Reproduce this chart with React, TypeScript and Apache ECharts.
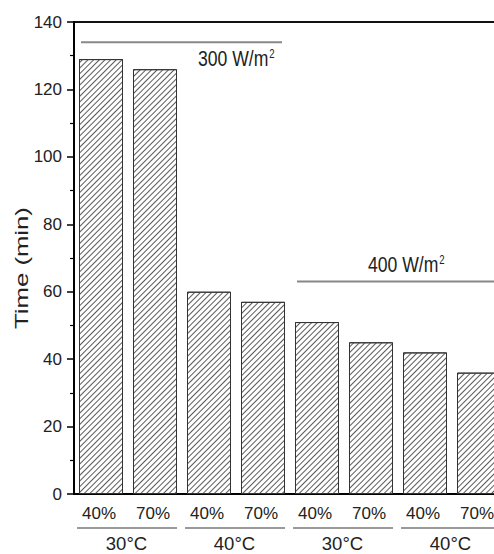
import React, { useEffect, useRef } from 'react';
import * as echarts from 'echarts';

// ---- data ----
const humidity = ['40%', '70%', '40%', '70%', '40%', '70%', '40%', '70%'];
const temperatures = ['30°C', '40°C', '30°C', '40°C'];
const times = [129, 126, 60, 57, 51, 45, 42, 36];
const irradianceLabels = ['300', '400'];
const irradianceFirstBar = [0, 4];
const irradianceLastBar = [3, 7];
const irradianceLineLevel = [134, 63];
const irradianceTextLevel = [129.3, 68];
const yMin = 0;
const yMax = 140;
const yInterval = 20;
const yTitle = 'Time (min)';

const categories = humidity.map((h, i) => `${i}|${h}`);

const SANS = '"Liberation Sans", Arial, sans-serif';

export default function App() {
  const ref = useRef<HTMLDivElement>(null);

  useEffect(() => {
    if (!ref.current) return;
    const chart = echarts.init(ref.current, undefined, { renderer: 'svg' });
    const option: any = {
      animation: false,
      backgroundColor: '#fff',
      aria: { enabled: true, decal: { show: true } },
      grid: {
        left: 74,
        top: 22,
        width: 432,
        height: 472,
        show: true,
        borderColor: '#111',
        borderWidth: 2,
        backgroundColor: 'transparent',
      },
      xAxis: [
        {
          type: 'category',
          data: categories,
          position: 'bottom',
          axisLine: { show: true, lineStyle: { color: '#000', width: 2 } },
          axisTick: { show: false },
          axisLabel: {
            formatter: (v: string) => v.split('|')[1],
            fontFamily: SANS,
            fontSize: 17,
            color: '#222',
            margin: 11,
            padding: [0, 4, 0, 0],
          },
          splitLine: { show: false },
        },
        {
          type: 'category',
          data: temperatures,
          position: 'bottom',
          offset: 32,
          axisLine: { show: false },
          axisTick: { show: false },
          axisLabel: {
            fontFamily: SANS,
            fontSize: 18.5,
            color: '#222',
            margin: 8,
            padding: [0, 3, 0, 0],
          },
          splitLine: { show: false },
        },
      ],
      yAxis: {
        type: 'value',
        min: yMin,
        max: yMax,
        interval: yInterval,
        axisLine: { show: true, lineStyle: { color: '#000', width: 2 } },
        axisTick: { show: true, inside: false, length: 7, lineStyle: { color: '#000', width: 1.5 } },
        minorTick: { show: true, splitNumber: 2, length: 4, lineStyle: { color: '#000', width: 1.2 } },
        axisLabel: { fontFamily: SANS, fontSize: 17, color: '#222', margin: 12 },
        splitLine: { show: false },
      },
      series: [
        {
          type: 'bar',
          xAxisIndex: 0,
          data: times,
          barWidth: 44,
          itemStyle: {
            color: '#fff',
            borderColor: '#333',
            borderWidth: 1,
            decal: {
              symbol: 'rect',
              symbolSize: 1,
              dashArrayX: [1, 0],
              dashArrayY: [0.9, 2.9],
              rotation: -Math.PI / 4,
              color: '#5a5a5a',
            },
          },
        },
      ],
    };
    chart.setOption(option);

    const px = (i: number) => chart.convertToPixel({ xAxisIndex: 0 }, i) as number;
    const py = (v: number) => chart.convertToPixel({ yAxisIndex: 0 }, v) as number;
    const y0 = py(0);

    const graphics: any[] = [];
    // irradiance brackets
    irradianceLabels.forEach((lab, k) => {
      const a = irradianceFirstBar[k];
      const b = irradianceLastBar[k];
      const ly = py(irradianceLineLevel[k]);
      graphics.push({
        type: 'line',
        shape: { x1: px(a) - 20, y1: ly, x2: px(b) + (k === 1 ? 60 : 19), y2: ly },
        style: { stroke: '#888', lineWidth: 2 },
      });
      const tx = k === 0 ? px(b) - 65 : px(a) + 51;
      graphics.push({
        type: 'text',
        x: tx,
        y: py(irradianceTextLevel[k]),
        scaleX: 0.8,
        style: {
          text: `{a|${lab} W/m}{s|2}`,
          rich: {
            a: { fontFamily: SANS, fontSize: 22, fill: '#222' },
            s: { fontFamily: SANS, fontSize: 12, fill: '#222', verticalAlign: 'top', padding: [0, 0, 0, 1] },
          },
          align: 'left',
          verticalAlign: 'middle',
        },
      });
    });
    // temperature group lines
    temperatures.forEach((_, g) => {
      const a = 2 * g;
      const b = 2 * g + 1;
      graphics.push({
        type: 'line',
        shape: { x1: px(a) - 24, y1: y0 + 34, x2: px(b) + 22, y2: y0 + 34 },
        style: { stroke: '#777', lineWidth: 1.5 },
      });
    });
    // y title
    graphics.push({
      type: 'text',
      x: 22,
      y: (py(yMin) + py(yMax)) / 2 + 10,
      rotation: Math.PI / 2,
      scaleX: 1.43,
      style: {
        text: yTitle,
        fontFamily: SANS,
        fontSize: 18,
        fill: '#222',
        align: 'center',
        verticalAlign: 'middle',
      },
    });
    chart.setOption({ graphic: graphics });

    return () => chart.dispose();
  }, []);

  return (
    <div
      style={{
        position: 'fixed',
        left: 0,
        top: 0,
        width: 494,
        height: 554,
        overflow: 'hidden',
        background: '#fff',
      }}
    >
      <div ref={ref} style={{ width: 560, height: 554 }} />
    </div>
  );
}
